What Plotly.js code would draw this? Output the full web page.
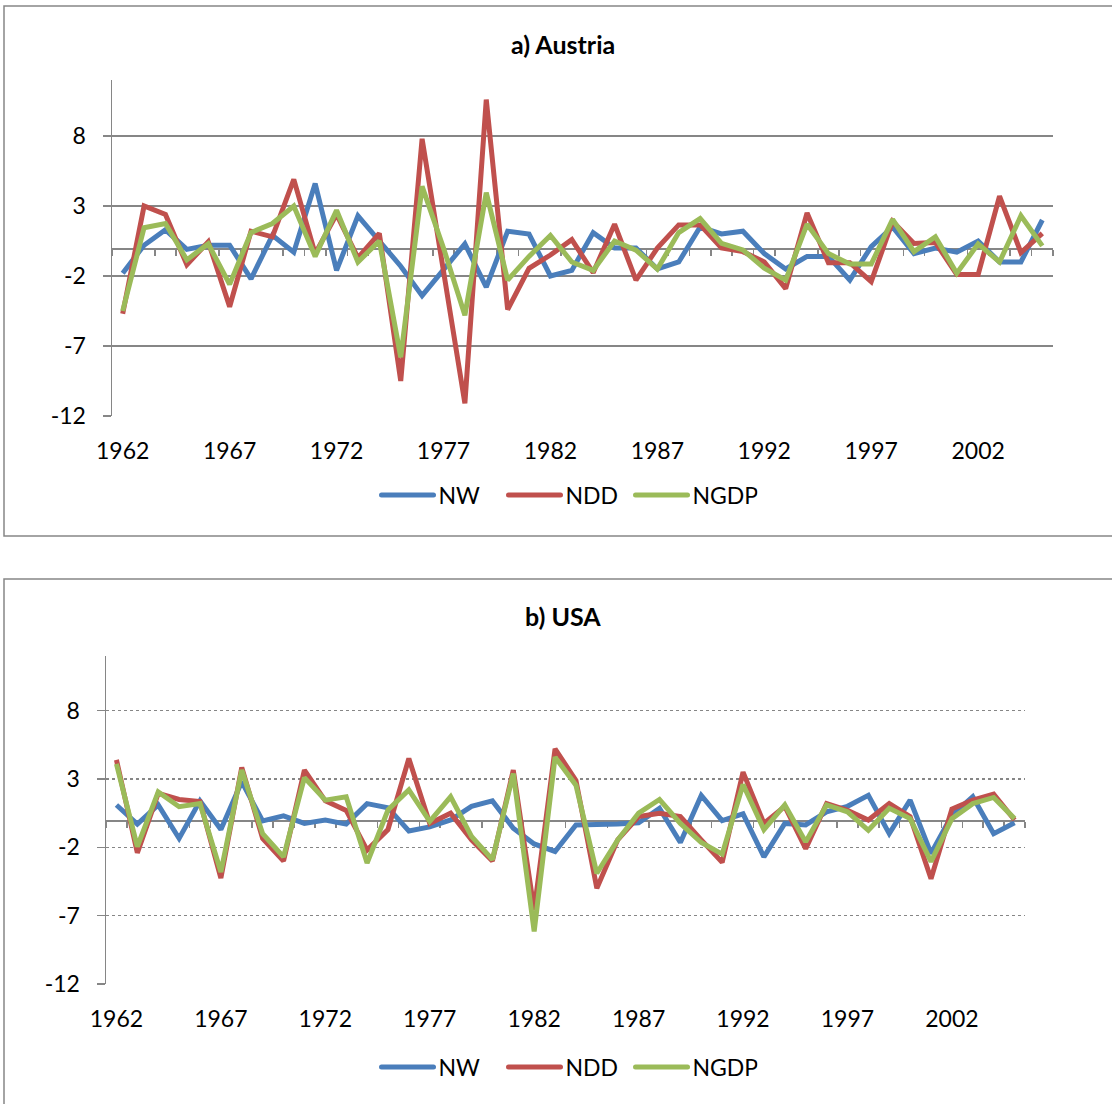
<!DOCTYPE html>
<html>
<head>
<meta charset="utf-8">
<script src="https://cdn.plot.ly/plotly-3.0.1.min.js"></script>
<style>html,body{margin:0;padding:0;background:#fff;}#chart{width:1112px;height:1104px;}</style>
</head>
<body>
<div id="chart"></div>
<script>
// ---- data ----
const years = [1962,1963,1964,1965,1966,1967,1968,1969,1970,1971,1972,1973,1974,1975,1976,1977,1978,1979,1980,1981,1982,1983,1984,1985,1986,1987,1988,1989,1990,1991,1992,1993,1994,1995,1996,1997,1998,1999,2000,2001,2002,2003,2004,2005];
const seriesNames = ["NW", "NDD", "NGDP"];
const chartTitles = ["a) Austria", "b) USA"];
const yTickVals = [-12, -7, -2, 3, 8];
const yTickText = ["-12", "-7", "-2", "3", "8"];

const austriaNW = [-1.8,0.2,1.3,-0.1,0.2,0.2,-2.2,0.9,-0.3,4.6,-1.6,2.3,0.5,-1.3,-3.4,-1.5,0.3,-2.8,1.2,1.0,-2.0,-1.6,1.1,0.0,0.0,-1.5,-1.0,1.5,1.0,1.2,-0.4,-1.5,-0.6,-0.6,-2.3,0.1,1.5,-0.4,0.0,-0.3,0.5,-1.0,-1.0,2.0];
const austriaNDD = [-4.7,3.0,2.4,-1.2,0.45,-4.2,1.2,0.8,4.9,-0.4,2.4,-0.7,1.05,-9.5,7.8,-1.6,-11.1,10.6,-4.4,-1.45,-0.5,0.6,-1.76,1.7,-2.3,0.0,1.65,1.65,0.0,-0.26,-1.0,-2.9,2.5,-1.05,-1.05,-2.4,1.9,0.33,0.4,-1.9,-1.9,3.7,-0.33,1.05];
const austriaNGDP = [-4.5,1.45,1.75,-0.85,0.3,-2.6,1.1,1.75,3.0,-0.6,2.7,-1.0,0.5,-7.8,4.4,0.0,-4.8,3.95,-2.3,-0.6,0.9,-1.0,-1.6,0.5,-0.15,-1.5,1.1,2.1,0.33,-0.14,-1.45,-2.3,1.7,-0.4,-1.15,-1.15,2.05,-0.26,0.8,-1.8,0.3,-1.0,2.3,0.15];

const usaNW = [1.1,-0.3,1.1,-1.35,1.4,-0.7,2.8,-0.07,0.3,-0.25,0.0,-0.3,1.2,0.9,-0.8,-0.5,0.0,1.0,1.4,-0.6,-1.75,-2.3,-0.36,-0.36,-0.3,-0.2,0.85,-1.65,1.8,-0.05,0.45,-2.7,-0.25,-0.36,0.6,1.0,1.8,-1.0,1.45,-2.45,0.35,1.7,-1.0,-0.2];
const usaNDD = [4.4,-2.4,1.95,1.5,1.35,-4.25,3.85,-1.35,-3.0,3.65,1.4,0.7,-2.2,-0.7,4.5,-0.25,0.5,-1.45,-3.0,3.65,-6.6,5.2,2.9,-5.0,-1.45,0.25,0.5,0.25,-1.45,-3.1,3.5,-0.25,1.0,-2.1,1.2,0.7,0.0,1.2,0.25,-4.3,0.8,1.45,1.9,0.0];
const usaNGDP = [4.1,-1.95,2.05,0.97,1.2,-3.8,3.65,-1.0,-2.7,3.1,1.45,1.7,-3.15,0.73,2.2,-0.1,1.7,-1.2,-2.9,3.4,-8.15,4.6,2.55,-3.9,-1.45,0.5,1.5,-0.25,-1.65,-2.5,2.6,-0.7,1.1,-1.6,1.1,0.6,-0.75,0.85,0.1,-3.05,0.1,1.2,1.65,0.1];

// ---- styling ----
const colors = ["#4A7EBB", "#C0504D", "#9BBB59"];
const FONT = "Lato, 'Liberation Sans', sans-serif";
const GRAY = "#868686";
const W = 1112, H = 1104;
const px = v => v / W;
const py = v => 1 - v / H;

const austriaSeries = [austriaNW, austriaNDD, austriaNGDP];
const usaSeries = [usaNW, usaNDD, usaNGDP];

const traces = [];
austriaSeries.forEach((vals, k) => traces.push({
  type: "scatter", mode: "lines", x: years, y: vals, name: seriesNames[k],
  xaxis: "x", yaxis: "y", legend: "legend",
  line: {color: colors[k], width: 5}, hoverinfo: "skip"
}));
usaSeries.forEach((vals, k) => traces.push({
  type: "scatter", mode: "lines", x: years, y: vals, name: seriesNames[k],
  xaxis: "x2", yaxis: "y2", legend: "legend2",
  line: {color: colors[k], width: 5}, hoverinfo: "skip"
}));
// empty helper traces so the zero-crossing category axes get their subplots
traces.push({type: "scatter", mode: "lines", x: [], y: [], xaxis: "x3", yaxis: "y", showlegend: false, hoverinfo: "skip"});
traces.push({type: "scatter", mode: "lines", x: [], y: [], xaxis: "x4", yaxis: "y2", showlegend: false, hoverinfo: "skip"});

const xRange = [years[0] - 0.5, years[years.length - 1] + 0.5];

const dom1x = [px(112), px(1053)], dom1y = [py(416), py(80)];
const dom2x = [px(106), px(1025)], dom2y = [py(984), py(656)];

function labelAxis(domain, anchor) {
  return {
    domain: domain, anchor: anchor, range: xRange, type: "linear",
    tick0: years[0], dtick: 5, tickformat: "d",
    showline: false, showgrid: false, zeroline: false, ticks: "",
    ticklabelstandoff: 19,
    tickfont: {family: FONT, size: 23, color: "#000"}, fixedrange: true
  };
}
function zeroAxis(domain, over, pos) {
  return {
    domain: domain, overlaying: over, anchor: "free", position: pos, range: xRange, type: "linear",
    tick0: years[0] - 0.5, dtick: 1, ticks: "outside", ticklen: 6, tickwidth: 1.5, tickcolor: GRAY,
    showline: true, linecolor: GRAY, linewidth: 1.5, showticklabels: false,
    showgrid: false, zeroline: false, layer: "below traces", fixedrange: true
  };
}
function valueAxis(domain, anchor, dash) {
  return {
    domain: domain, anchor: anchor, range: [-12, 12],
    tickmode: "array", tickvals: yTickVals, ticktext: yTickText,
    showline: true, linecolor: GRAY, linewidth: 1.5,
    showgrid: true, gridcolor: GRAY, gridwidth: 1.5, griddash: dash,
    zeroline: false, ticks: "outside", ticklen: 8, tickwidth: 1.5, tickcolor: GRAY,
    ticklabelstandoff: 12,
    tickfont: {family: FONT, size: 23, color: "#000"}, fixedrange: true
  };
}

const legendBase = {orientation: "h", x: px(567), xanchor: "center", yanchor: "middle",
  font: {family: FONT, size: 23, color: "#000"}, bgcolor: "rgba(0,0,0,0)", itemwidth: 52,
  entrywidth: 60, entrywidthmode: "pixels"};

const layout = {
  width: W, height: H, autosize: false,
  margin: {l: 0, r: 0, t: 0, b: 0, pad: 0},
  paper_bgcolor: "#fff", plot_bgcolor: "rgba(0,0,0,0)",
  font: {family: FONT, size: 23, color: "#000"},
  xaxis: labelAxis(dom1x, "y"),
  yaxis: valueAxis(dom1y, "x", "solid"),
  xaxis2: labelAxis(dom2x, "y2"),
  yaxis2: valueAxis(dom2y, "x2", "dot"),
  xaxis3: zeroAxis(dom1x, "x", py(248)),
  xaxis4: zeroAxis(dom2x, "x2", py(820)),
  legend: Object.assign({}, legendBase, {y: py(495)}),
  legend2: Object.assign({}, legendBase, {y: py(1067)}),
  annotations: [
    {text: "<b>" + chartTitles[0] + "</b>", xref: "paper", yref: "paper", x: px(563), y: py(44),
     xanchor: "center", yanchor: "middle", showarrow: false, font: {family: FONT, size: 25, color: "#000"}},
    {text: "<b>" + chartTitles[1] + "</b>", xref: "paper", yref: "paper", x: px(563), y: py(616),
     xanchor: "center", yanchor: "middle", showarrow: false, font: {family: FONT, size: 25, color: "#000"}}
  ],
  shapes: [
    {type: "rect", xref: "paper", yref: "paper", x0: px(4), x1: 1.05, y0: py(536), y1: py(6),
     line: {color: GRAY, width: 1.5}, fillcolor: "rgba(0,0,0,0)", layer: "below"},
    {type: "rect", xref: "paper", yref: "paper", x0: px(4), x1: 1.05, y0: -0.05, y1: py(579),
     line: {color: GRAY, width: 1.5}, fillcolor: "rgba(0,0,0,0)", layer: "below"}
  ],
  showlegend: true
};

Plotly.newPlot("chart", traces, layout, {displayModeBar: false, staticPlot: true}).then(gd => {
  // lengthen the legend line samples to fill the item width, as in the original
  gd.querySelectorAll(".legendlines path").forEach(p => {
    p.setAttribute("d", "M5,0h52");
    p.style.strokeLinecap = "round";
  });
});
</script>
</body>
</html>
